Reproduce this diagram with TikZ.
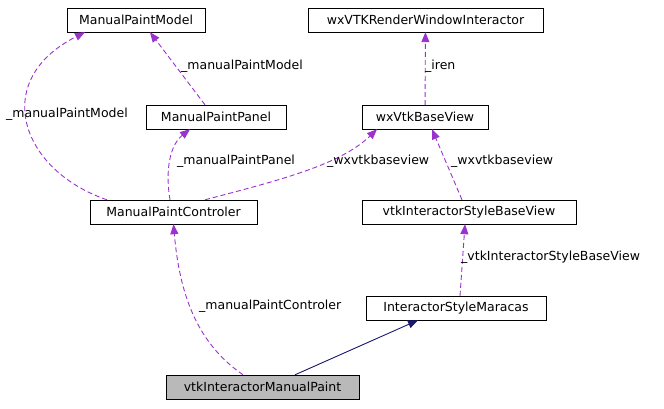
\documentclass[tikz,border=0pt]{standalone}
\usepackage{fontspec}
\setmainfont{DejaVu Sans}
\usetikzlibrary{arrows.meta}
\definecolor{edgepurple}{HTML}{9A32CD}
\definecolor{edgenavy}{HTML}{191970}
\tikzset{
  cls/.style={draw,rectangle,minimum height=24pt,inner sep=0pt,font=\fontsize{12.5}{14}\selectfont},
  use/.style={draw=edgepurple,dashed,line width=0.9pt,dash pattern=on 5pt off 3pt,-{Triangle[fill=edgepurple,length=10pt,width=8pt]}},
  inh/.style={draw=edgenavy,line width=0.9pt,-{Triangle[fill=edgenavy,length=10pt,width=8pt]}},
  lbl/.style={font=\fontsize{12.5}{14}\selectfont,inner sep=0pt,anchor=west}
}
\begin{document}
\begin{tikzpicture}[x=1pt,y=-1pt]
    \useasboundingbox (0,0) rectangle (664,408);

    \node[cls,minimum width=138pt] (model) at (136,20) {ManualPaintModel};
    \node[cls,minimum width=235pt] (rwi) at (425.5,20) {wxVTKRenderWindowInteractor};
    \node[cls,minimum width=140pt] (panel) at (216,117) {ManualPaintPanel};
    \node[cls,minimum width=126pt] (base) at (425,117) {wxVtkBaseView};
    \node[cls,minimum width=167pt] (ctrl) at (173.5,212) {ManualPaintControler};
    \node[cls,minimum width=214pt] (isbase) at (469,212) {vtkInteractorStyleBaseView};
    \node[cls,minimum width=180pt] (mar) at (456,308) {InteractorStyleMaracas};
    \node[cls,minimum width=193pt,fill=gray!55] (paint) at (262.5,387) {vtkInteractorManualPaint};

    \draw[use] (panel.north -| 205,0) -- (model.south -| 150,0);
    \draw[use] (ctrl.north -| 107,0) .. controls (20,170) and (-10,80) .. (model.south -| 85,0);
    \draw[use] (ctrl.north -| 170,0) .. controls (165,170) and (170,145) .. (panel.south -| 190,0);
    \draw[use] (ctrl.north -| 205,0) .. controls (280,180) and (340,165) .. (base.south -| 377,0);
    \draw[use] (base) -- (rwi);
    \draw[use] (isbase.north -| 462,0) -- (base.south -| 432,0);
    \draw[use] (mar.north -| 460,0) -- (isbase.south -| 465,0);
    \draw[use] (paint.north -| 243,0) .. controls (200,345) and (180,300) .. (ctrl.south);
    \draw[inh] (paint.north -| 295,0) -- (mar.south -| 418,0);

    \node[lbl] (l1) at (181,66) {\_manualPaintModel};
    \node[lbl] (l2) at (6,114) {\_manualPaintModel};
    \node[lbl] (l3) at (177,161) {\_manualPaintPanel};
    \node[lbl] (l4) at (327,161) {\_wxvtkbaseview};
    \node[lbl] (l5) at (425,66) {\_iren};
    \node[lbl] (l6) at (451,161) {\_wxvtkbaseview};
    \node[lbl] (l7) at (461,257) {\_vtkInteractorStyleBaseView};
    \node[lbl] (l8) at (199,306) {\_manualPaintControler};
\end{tikzpicture}
\end{document}
